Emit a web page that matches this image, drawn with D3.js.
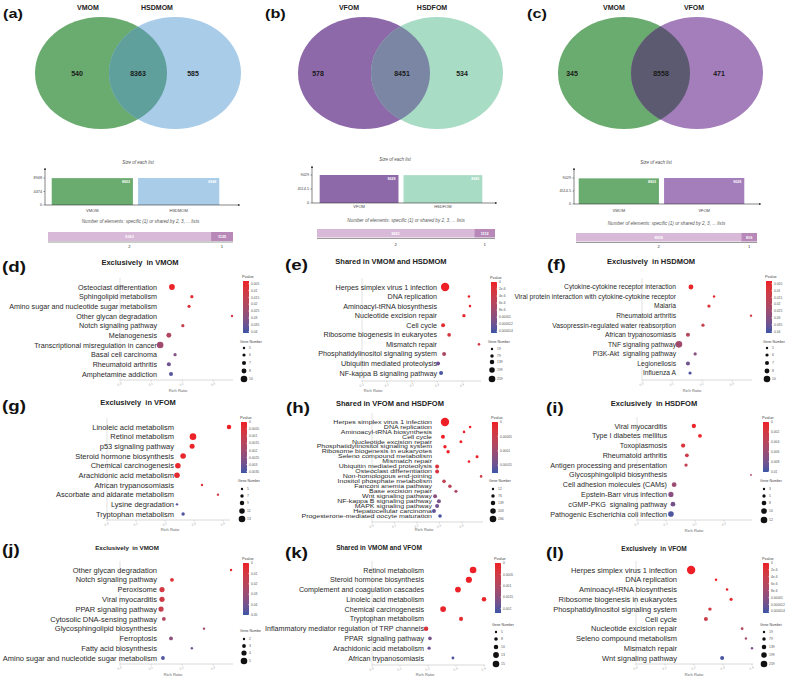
<!DOCTYPE html>
<html><head><meta charset="utf-8">
<script src="https://cdn.jsdelivr.net/npm/d3@7"></script>
<style>body{margin:0;background:#fff} svg text{font-family:"Liberation Sans",Arial,sans-serif}</style>
</head><body><svg id="c" width="787" height="681"></svg>
<script>
// ---------------- Venn data ----------------
const vennNamesA = ["VMOM","VFOM","VMOM"];
const vennNamesB = ["HSDMOM","HSDFOM","VFOM"];
const vennOnlyA = [540, 578, 345];
const vennShared = [8363, 8451, 8558];
const vennOnlyB = [585, 534, 471];

// ---------------- dot plot data ----------------
const dTerms = ["Osteoclast differentiation","Sphingolipid metabolism","Amino sugar and nucleotide sugar metabolism","Other glycan degradation","Notch signaling pathway","Melanogenesis","Transcriptional misregulation in cancer","Basal cell carcinoma","Rheumatoid arthritis","Amphetamine addiction"];
const dRatio = [0.167,0.231,0.222,0.36,0.202,0.157,0.129,0.177,0.157,0.164];
const dPval = [0.004,0.006,0.008,0.012,0.014,0.02,0.024,0.03,0.034,0.038];
const dGenes = [9,6,6,5,6,8,10,6,7,7];
const dPTicks = [0.005,0.01,0.015,0.02,0.025,0.03,0.035,0.04];
const dPLim = [0.003,0.041];
const dGeneTicks = [5,6,7,8,10];

const eTerms = ["Herpes simplex virus 1 infection","DNA replication","Aminoacyl-tRNA biosynthesis","Nucleotide excision repair","Cell cycle","Ribosome biogenesis in eukaryotes","Mismatch repair","Phosphatidylinositol signaling system","Ubiquitin mediated proteolysis","NF-kappa B signaling pathway"];
const eRatio = [0.331,0.426,0.430,0.406,0.323,0.347,0.466,0.327,0.303,0.315];
const ePval = [1e-8,1e-7,3e-7,8e-7,1.5e-6,2.5e-6,3e-6,7e-6,1.2e-5,1.4e-5];
const eGenes = [360,30,30,76,110,95,30,110,110,110];
const ePTicks = [0,2e-6,4e-6,6e-6,8e-6,1e-5,1.2e-5,1.4e-5];
const ePLim = [0,1.45e-5];
const eGeneTicks = [19,79,139,199,259];

const fTerms = ["Cytokine-cytokine receptor interaction","Viral protein interaction with cytokine-cytokine receptor","Malaria","Rheumatoid arthritis","Vasopressin-regulated water reabsorption","African trypanosomiasis","TNF signaling pathway","PI3K-Akt  signaling pathway","Legionellosis","Influenza A"];
const fRatio = [0.163,0.240,0.223,0.363,0.203,0.153,0.123,0.177,0.153,0.160];
const fPval = [0.004,0.005,0.008,0.011,0.014,0.019,0.024,0.03,0.034,0.039];
const fGenes = [8,5,6,5,6,7,10,6,7,6];
const fPTicks = [0.005,0.01,0.015,0.02,0.025,0.03,0.035,0.04];
const fPLim = [0.003,0.041];
const fGeneTicks = [5,6,7,8,10];

const gTerms = ["Linoleic acid metabolism","Retinol metabolism","p53 signaling pathway","Steroid hormone biosynthesis","Chemical carcinogenesis","Arachidonic acid metabolism","African trypanosomiasis","Ascorbate and aldarate metabolism","Lysine degradation","Tryptophan metabolism"];
const gRatio = [0.42,0.296,0.293,0.262,0.244,0.241,0.327,0.382,0.241,0.262];
const gPval = [2e-5,4e-5,1e-4,1.5e-4,2e-4,2.5e-4,6e-4,8e-4,3.2e-3,3.4e-3];
const gGenes = [9,13,10,11,11,11,5,5,5,7];
const gPTicks = [0,0.0005,0.001,0.0015,0.002,0.0025,0.003,0.0035];
const gPLim = [0,0.0036];
const gGeneTicks = [5,7,9,11,13];

const hTerms = ["Herpes simplex virus 1 infection","DNA replication","Aminoacyl-tRNA biosynthesis","Cell cycle","Nucleotide excision repair","Phosphatidylinositol signaling system","Ribosome biogenesis in eukaryotes","Seleno compound metabolism","Mismatch repair","Ubiquitin mediated proteolysis","Osteoclast differentiation","Non-homologous end-joining","Inositol phosphate metabolism","Fanconi anemia pathway","Base excision repair","Wnt signaling pathway","NF-kappa B signaling pathway","MAPK signaling pathway","Hepatocellular carcinoma","Progesterone-mediated oocyte maturation"];
const hRatio = [0.325,0.437,0.410,0.316,0.396,0.325,0.339,0.468,0.432,0.290,0.290,0.486,0.321,0.347,0.374,0.281,0.298,0.290,0.276,0.303];
const hPval = [1e-9,1e-8,5e-8,2e-7,5e-7,1e-6,2e-6,3e-6,5e-6,3e-5,3.5e-5,4e-5,6e-5,7e-5,8e-5,1.2e-4,1.35e-4,1.45e-4,1.55e-4,1.7e-4];
const hGenes = [375,24,24,109,48,72,72,48,24,109,109,24,85,85,60,109,109,109,109,85];
const hPTicks = [0,5e-5,1e-4,1.5e-4];
const hPLim = [0,1.77e-4];
const hGeneTicks = [12,76,139,203,266];

const iTerms = ["Viral myocarditis","Type I diabetes mellitus","Toxoplasmosis","Rheumatoid arthritis","Antigen processing and presentation","Glycosphingolipid biosynthesis","Cell adhesion molecules (CAMs)","Epstein-Barr virus infection","cGMP-PKG  signaling pathway","Pathogenic Escherichia coli infection"];
const iRatio = [0.196,0.217,0.159,0.172,0.169,0.393,0.128,0.117,0.124,0.117];
const iPval = [2e-4,4e-4,1.5e-3,2.5e-3,3.5e-3,4.5e-3,6e-3,7e-3,8e-3,9.5e-3];
const iGenes = [7,6,7,6,5,2,8,9,8,10];
const iPTicks = [0,0.002,0.004,0.006,0.008,0.01];
const iPLim = [0,0.0101];
const iGeneTicks = [3,5,8,10,12];

const jTerms = ["Other glycan degradation","Notch signaling pathway","Peroxisome","Viral myocarditis","PPAR signaling pathway","Cytosolic DNA-sensing pathway","Glycosphingolipid biosynthesis","Ferroptosis","Fatty acid biosynthesis","Amino sugar and nucleotide sugar metabolism"];
const jRatio = [0.357,0.167,0.135,0.135,0.132,0.141,0.270,0.164,0.231,0.138];
const jPval = [0.002,0.006,0.01,0.012,0.014,0.022,0.028,0.033,0.04,0.047];
const jGenes = [2,3,4,4,4,3,2,3,2,3];
const jPTicks = [0,0.01,0.02,0.03,0.04,0.05];
const jPLim = [0,0.05];
const jGeneTicks = [2,3,4,5];

const kTerms = ["Retinol metabolism","Steroid hormone biosynthesis","Complement and coagulation cascades","Linoleic acid metabolism","Chemical carcinogenesis","Tryptophan metabolism","Inflammatory mediator regulation of TRP channels","PPAR  signaling pathway","Arachidonic acid metabolism","African trypanosomiasis"];
const kRatio = [0.361,0.346,0.307,0.40,0.254,0.318,0.193,0.207,0.204,0.289];
const kPval = [5e-6,1e-5,3e-5,5e-5,8e-5,2e-4,3e-4,1.7e-3,1.8e-3,2.1e-3];
const kGenes = [15,14,13,10,13,9,10,8,7,6];
const kPTicks = [0,0.0005,0.001,0.0015,0.002];
const kPLim = [0,0.0022];
const kGeneTicks = [5,8,10,13,15];

const lTerms = ["Herpes simplex virus 1 infection","DNA replication","Aminoacyl-tRNA biosynthesis","Ribosome biogenesis in eukaryotes","Phosphatidylinositol signaling system","Cell cycle","Nucleotide excision repair","Seleno compound metabolism","Mismatch repair","Wnt signaling pathway"];
const lRatio = [0.19,0.276,0.314,0.328,0.255,0.241,0.366,0.379,0.40,0.297];
const lPval = [1e-9,5e-8,2e-7,1e-6,3e-6,4e-6,6e-6,8e-6,1.1e-5,1.4e-5];
const lGenes = [360,30,30,60,80,110,40,20,20,110];
const lPTicks = [0,2e-6,4e-6,6e-6,8e-6,1e-5,1.2e-5,1.4e-5];
const lPLim = [0,1.45e-5];
const lGeneTicks = [19,79,139,199,259];

// ---------------- layout / style ----------------
const vennStyle = [
  {lab:"(a)", lx:3, lb:18, cx:[101,175], cy:73, rx:66, ry:56, tx:[88,157], ty:10, nx:[77,138,193],
   cols:["#6aab6f","#a9cce9","#5f9f9c"], barCols:["#6aab6f","#a9cce9"],
   bar:{ax:45, y0:205, yt:178, x0:50, x1:221, lblY:212, arrowX:240, arrowTop:168, sx:138, sy:164},
   num:{ty:223, y:232, h:9, x0:48, x1:233, tickY:248}},
  {lab:"(b)", lx:265, lb:18, cx:[364,437], cy:73, rx:66, ry:56, tx:[349,432], ty:10, nx:[318,402,462],
   cols:["#8d69a9","#a9dcc5","#7b86a4"], barCols:["#8d69a9","#a9dcc5"],
   bar:{ax:312, y0:203, yt:175, x0:318, x1:484, lblY:208, arrowX:497, arrowTop:166, sx:395, sy:161},
   num:{ty:222, y:229, h:8.5, x0:317, x1:495, tickY:246}},
  {lab:"(c)", lx:527, lb:18, cx:[624,697], cy:73, rx:66, ry:56, tx:[614,694], ty:10, nx:[572,661,719],
   cols:["#6aab6f","#a47dbb","#5c5a70"], barCols:["#6aab6f","#a47dbb"],
   bar:{ax:574, y0:204, yt:178, x0:577, x1:746, lblY:212, arrowX:761, arrowTop:168, sx:656, sy:164},
   num:{ty:225, y:233, h:8.5, x0:576, x1:757, tickY:248}}
];

const panels = [
  {data:[dTerms,dRatio,dPval,dGenes,dPTicks,dPLim,dGeneTicks], lab:"(d)", lx:2, lb:272, title:"Exclusively  in VMOM", tx:140, ty:265, tfs:7.5, rx:157, y0:287, y1:374, fs:7.2, sy:1, xs:120, xe:232, ay:380, dmax:0.36, rr:[178,392], gx:243, gy0:281, gy1:333, gty:343, gdy:[348,355,363,371,379], clip:null},
  {data:[eTerms,eRatio,ePval,eGenes,ePTicks,ePLim,eGeneTicks], lab:"(e)", lx:285, lb:270, title:"Shared in VMOM and HSDMOM", tx:391, ty:264, tfs:7.5, rx:437, y0:287, y1:373, fs:7.2, sy:1, xs:362, xe:480, ay:381, dmax:0.47, rr:[373,392], gx:491, gy0:282, gy1:333, gty:343, gdy:[349,356,362,370,379], clip:null},
  {data:[fTerms,fRatio,fPval,fGenes,fPTicks,fPLim,fGeneTicks], lab:"(f)", lx:547, lb:270, title:"Exclusively  in HSDMOM", tx:651, ty:264, tfs:7.5, rx:676, y0:287, y1:373, fs:6.7, sy:1, xs:642, xe:751, ay:380, dmax:0.363, rr:[692,392], gx:766, gy0:281, gy1:333, gty:343, gdy:[348,355,363,371,379], clip:null},
  {data:[gTerms,gRatio,gPval,gGenes,gPTicks,gPLim,gGeneTicks], lab:"(g)", lx:2, lb:411, title:"Exclusively  in VFOM", tx:138, ty:405, tfs:7.5, rx:174, y0:427, y1:514, fs:7.5, sy:1, xs:107, xe:229, ay:520, dmax:0.42, rr:[170,531], gx:241, gy0:422, gy1:473, gty:482, gdy:[489,496,503,511,519], clip:null},
  {data:[hTerms,hRatio,hPval,hGenes,hPTicks,hPLim,hGeneTicks], lab:"(h)", lx:286, lb:413, title:"Shared in VFOM and HSDFOM", tx:390, ty:406, tfs:7.5, rx:432, y0:422, y1:516, fs:7, sy:0.7, xs:372, xe:482, ay:522, dmax:0.49, rr:[424,531], gx:492, gy0:422, gy1:473, gty:482, gdy:[489,496,503,511,519], clip:null},
  {data:[iTerms,iRatio,iPval,iGenes,iPTicks,iPLim,iGeneTicks], lab:"(i)", lx:546, lb:413, title:"Exclusively  in HSDFOM", tx:654, ty:406, tfs:7.5, rx:667, y0:426, y1:514, fs:7.2, sy:1, xs:637, xe:751, ay:520, dmax:0.393, rr:[694,532], gx:763, gy0:422, gy1:472, gty:482, gdy:[489,496,503,511,520], clip:null},
  {data:[jTerms,jRatio,jPval,jGenes,jPTicks,jPLim,jGeneTicks], lab:"(j)", lx:2, lb:555, title:"Exclusively  in VMOM", tx:127, ty:550, tfs:6.2, rx:157, y0:570, y1:658, fs:7.5, sy:1, xs:120, xe:232, ay:664, dmax:0.36, rr:[173,676], gx:243, gy0:563, gy1:615, gty:632, gdy:[639,646,653,661], clip:[0,261]},
  {data:[kTerms,kRatio,kPval,kGenes,kPTicks,kPLim,kGeneTicks], lab:"(k)", lx:285, lb:558, title:"Shared in VMOM and VFOM", tx:379, ty:550, tfs:6.5, rx:424, y0:570, y1:658, fs:7.15, sy:1, xs:372, xe:484, ay:665, dmax:0.4, rr:[425,676], gx:495, gy0:563, gy1:613, gty:626, gdy:[632,639,647,655,664], clip:null},
  {data:[lTerms,lRatio,lPval,lGenes,lPTicks,lPLim,lGeneTicks], lab:"(l)", lx:546, lb:558, title:"Exclusively  in VFOM", tx:654, ty:551, tfs:6.5, rx:677, y0:570, y1:658, fs:7.5, sy:1, xs:636, xe:752, ay:664, dmax:0.4, rr:[694,676], gx:763, gy0:563, gy1:613, gty:626, gdy:[632,639,647,655,664], clip:null}
];

const svg = d3.select("#c");
const defs = svg.append("defs");

defs.append("marker").attr("id","arr").attr("viewBox","0 0 10 10").attr("refX",9).attr("refY",5)
  .attr("markerWidth",4).attr("markerHeight",4).attr("orient","auto")
  .append("path").attr("d","M0,0L10,5L0,10z").attr("fill","#333");

function panelLabel(txt, x, y, fs, sx){
  svg.append("text").attr("transform",`translate(${x},${y}) scale(${sx},1)`)
    .attr("font-size",fs).attr("font-weight","bold").attr("fill","#111").text(txt);
}

// ---------------- Venn panels ----------------
vennStyle.forEach((V, i) => {
  panelLabel(V.lab, V.lx, V.lb, 13, 1.25);
  const g = svg.append("g");
  const clipId = "clip"+i;
  defs.append("clipPath").attr("id",clipId).append("ellipse")
    .attr("cx",V.cx[0]).attr("cy",V.cy).attr("rx",V.rx).attr("ry",V.ry);
  g.append("ellipse").attr("cx",V.cx[0]).attr("cy",V.cy).attr("rx",V.rx).attr("ry",V.ry).attr("fill",V.cols[0]);
  g.append("ellipse").attr("cx",V.cx[1]).attr("cy",V.cy).attr("rx",V.rx).attr("ry",V.ry).attr("fill",V.cols[1]);
  g.append("ellipse").attr("clip-path",`url(#${clipId})`).attr("cx",V.cx[1]).attr("cy",V.cy).attr("rx",V.rx).attr("ry",V.ry).attr("fill",V.cols[2]);
  [vennNamesA[i], vennNamesB[i]].forEach((n,k)=>{
    g.append("text").attr("x",V.tx[k]).attr("y",V.ty).attr("text-anchor","middle")
      .attr("font-size",7).attr("font-weight","bold").attr("fill","#222").text(n);
  });
  [vennOnlyA[i], vennShared[i], vennOnlyB[i]].forEach((n,k)=>{
    g.append("text").attr("x",V.nx[k]).attr("y",V.cy+2.5).attr("text-anchor","middle")
      .attr("font-size",7).attr("font-weight","bold").attr("fill","#1a1a1a").text(n);
  });

  const B = V.bar;
  const sizes = [vennOnlyA[i]+vennShared[i], vennOnlyB[i]+vennShared[i]];
  const names = [vennNamesA[i], vennNamesB[i]];
  const maxS = d3.max(sizes);
  const y = d3.scaleLinear().domain([0,maxS]).range([B.y0,B.yt]);
  const x = d3.scaleBand().domain(names.map((n,k)=>k)).range([B.x0,B.x1]).paddingInner(0.06).paddingOuter(0.02);
  g.append("text").attr("x",B.sx).attr("y",B.sy).attr("text-anchor","middle").attr("font-size",4.5)
    .attr("font-style","italic").attr("fill","#555").text("Size of each list");
  sizes.forEach((s,k)=>{
    g.append("rect").attr("x",x(k)).attr("y",y(s)).attr("width",x.bandwidth()).attr("height",B.y0-y(s)).attr("fill",V.barCols[k]);
    g.append("text").attr("x",x(k)+x.bandwidth()-3).attr("y",y(s)+5).attr("text-anchor","end")
      .attr("font-size",3.6).attr("font-weight","bold").attr("fill","#fff").text(s);
    g.append("text").attr("x",x(k)+x.bandwidth()/2).attr("y",B.lblY).attr("text-anchor","middle")
      .attr("font-size",4).attr("fill","#444").text(names[k]);
  });
  g.append("line").attr("x1",B.ax).attr("x2",B.ax).attr("y1",B.y0).attr("y2",B.arrowTop).attr("stroke","#333").attr("stroke-width",0.6).attr("marker-end","url(#arr)");
  g.append("line").attr("x1",B.ax).attr("x2",B.arrowX).attr("y1",B.y0).attr("y2",B.y0).attr("stroke","#333").attr("stroke-width",0.6).attr("marker-end","url(#arr)");
  [0, maxS/2, maxS].forEach(t=>{
    g.append("text").attr("x",B.ax-3).attr("y",y(t)+1.3).attr("text-anchor","end").attr("font-size",3.8).attr("fill","#444").text(t);
    g.append("line").attr("x1",B.ax-1.5).attr("x2",B.ax).attr("y1",y(t)).attr("y2",y(t)).attr("stroke","#333").attr("stroke-width",0.5);
  });

  const N = V.num;
  const single = vennOnlyA[i]+vennOnlyB[i];
  const xs = d3.scaleLinear().domain([0, vennShared[i]+single]).range([N.x0,N.x1]);
  g.append("text").attr("x",(N.x0+N.x1)/2).attr("y",N.ty).attr("text-anchor","middle").attr("font-size",4.6)
    .attr("font-style","italic").attr("fill","#555").text("Number of elements: specific (1) or shared by 2, 3, ... lists");
  g.append("rect").attr("x",xs(0)).attr("y",N.y).attr("width",xs(vennShared[i])-xs(0)).attr("height",N.h).attr("fill","#d8b9d8");
  g.append("rect").attr("x",xs(vennShared[i])).attr("y",N.y).attr("width",xs(vennShared[i]+single)-xs(vennShared[i])).attr("height",N.h).attr("fill","#b889b8");
  g.append("line").attr("x1",N.x0).attr("x2",N.x1).attr("y1",N.y+N.h+1).attr("y2",N.y+N.h+1).attr("stroke","#333").attr("stroke-width",0.5);
  const c1 = (xs(0)+xs(vennShared[i]))/2, c2 = (xs(vennShared[i])+xs(vennShared[i]+single))/2;
  g.append("text").attr("x",c1).attr("y",N.y+N.h/2+1.4).attr("text-anchor","middle").attr("font-size",3.8).attr("font-weight","bold").attr("fill","#fff").text(vennShared[i]);
  g.append("text").attr("x",c2).attr("y",N.y+N.h/2+1.4).attr("text-anchor","middle").attr("font-size",3.8).attr("font-weight","bold").attr("fill","#fff").text(single);
  g.append("text").attr("x",c1).attr("y",N.tickY).attr("text-anchor","middle").attr("font-size",4.2).attr("fill","#333").text("2");
  g.append("text").attr("x",c2).attr("y",N.tickY).attr("text-anchor","middle").attr("font-size",4.2).attr("fill","#333").text("1");
});

// ---------------- dot plot panels ----------------
function fmtP(v){ return (v>0 && v<1e-5) ? v.toExponential(0) : String(v); }

panels.forEach((P, pi) => {
  const [terms, ratio, pval, genes, pticks, plim, gticks] = P.data;
  panelLabel(P.lab, P.lx, P.lb, 15, 1.25);
  svg.append("text").attr("x",P.tx).attr("y",P.ty).attr("text-anchor","middle").attr("font-size",P.tfs)
    .attr("font-weight","bold").attr("fill","#222").style("white-space","pre").text(P.title);
  const g = svg.append("g");
  if (P.clip) {
    const cid = "pclip"+pi;
    defs.append("clipPath").attr("id",cid).append("rect").attr("x",P.clip[0]).attr("y",0).attr("width",P.clip[1]-P.clip[0]).attr("height",681);
    g.attr("clip-path",`url(#${cid})`);
  }
  const x = d3.scaleLinear().domain([0,P.dmax]).range([P.xs,P.xe]);
  const y = d3.scalePoint().domain(terms).range([P.y0,P.y1]);
  const col = d3.scaleLinear().domain(plim).range(["#ee1f26","#3a56a7"]).interpolate(d3.interpolateLab).clamp(true);
  const r = d3.scaleLinear().domain([gticks[0], gticks[gticks.length-1]]).range([1.2,3.3]);

  g.append("line").attr("x1",P.xs).attr("x2",P.xs).attr("y1",P.y0-9).attr("y2",P.ay).attr("stroke","#d6d6d6").attr("stroke-width",0.7);
  g.append("line").attr("x1",P.xs).attr("x2",P.xe+1).attr("y1",P.ay).attr("y2",P.ay).attr("stroke","#cfcfcf").attr("stroke-width",0.8);
  const ticks = d3.range(0, P.dmax+1e-9, 0.1);
  ticks.forEach(t=>{
    g.append("line").attr("x1",x(t)).attr("x2",x(t)).attr("y1",P.ay).attr("y2",P.ay+1.5).attr("stroke","#bbb").attr("stroke-width",0.5);
    g.append("text").attr("transform",`translate(${x(t)},${P.ay+5}) rotate(-25)`).attr("text-anchor","middle")
      .attr("font-size",3).attr("fill","#999").text(d3.format(".1f")(t));
  });
  g.append("text").attr("x",P.rr[0]).attr("y",P.rr[1]).attr("text-anchor","middle").attr("font-size",4).attr("fill","#666").text("Rich Ratio");

  terms.forEach(t=>{
    g.append("text").attr("transform",`translate(${P.rx},${y(t)}) scale(1,${P.sy})`).attr("dy","0.35em")
      .attr("text-anchor","end").attr("font-size",P.fs).attr("fill","#2a2a2a").style("white-space","pre").text(t);
  });
  g.selectAll("circle.dot").data(terms).join("circle").attr("class","dot")
    .attr("cx",(d,k)=>x(ratio[k])).attr("cy",d=>y(d)).attr("r",(d,k)=>r(genes[k]))
    .attr("fill",(d,k)=>col(pval[k]));

  const gid = "grad"+pi;
  const lg = defs.append("linearGradient").attr("id",gid).attr("x1",0).attr("x2",0).attr("y1",0).attr("y2",1);
  d3.range(0,1.0001,0.1).forEach(f=>{
    lg.append("stop").attr("offset",f).attr("stop-color",col(plim[0]+f*(plim[1]-plim[0])));
  });
  g.append("text").attr("x",P.gx-1).attr("y",P.gy0-3).attr("font-size",3.8).attr("fill","#444").text("Pvalue");
  g.append("rect").attr("x",P.gx).attr("y",P.gy0).attr("width",6).attr("height",P.gy1-P.gy0).attr("fill",`url(#${gid})`);
  const py = d3.scaleLinear().domain(plim).range([P.gy0,P.gy1]);
  pticks.forEach(t=>{
    g.append("line").attr("x1",P.gx+5).attr("x2",P.gx+6).attr("y1",py(t)).attr("y2",py(t)).attr("stroke","#fff").attr("stroke-width",0.4);
    g.append("text").attr("x",P.gx+8).attr("y",py(t)+1.2).attr("font-size",3.3).attr("fill","#555").text(fmtP(t));
  });
  g.append("text").attr("x",P.gx-3).attr("y",P.gty).attr("font-size",3.5).attr("fill","#444").text("Gene Number");
  gticks.forEach((t,k)=>{
    g.append("circle").attr("cx",P.gx+1).attr("cy",P.gdy[k]).attr("r",r(t)).attr("fill","#111");
    g.append("text").attr("x",P.gx+6).attr("y",P.gdy[k]+1.2).attr("font-size",3.4).attr("fill","#555").text(t);
  });
});
</script>
</body></html>
